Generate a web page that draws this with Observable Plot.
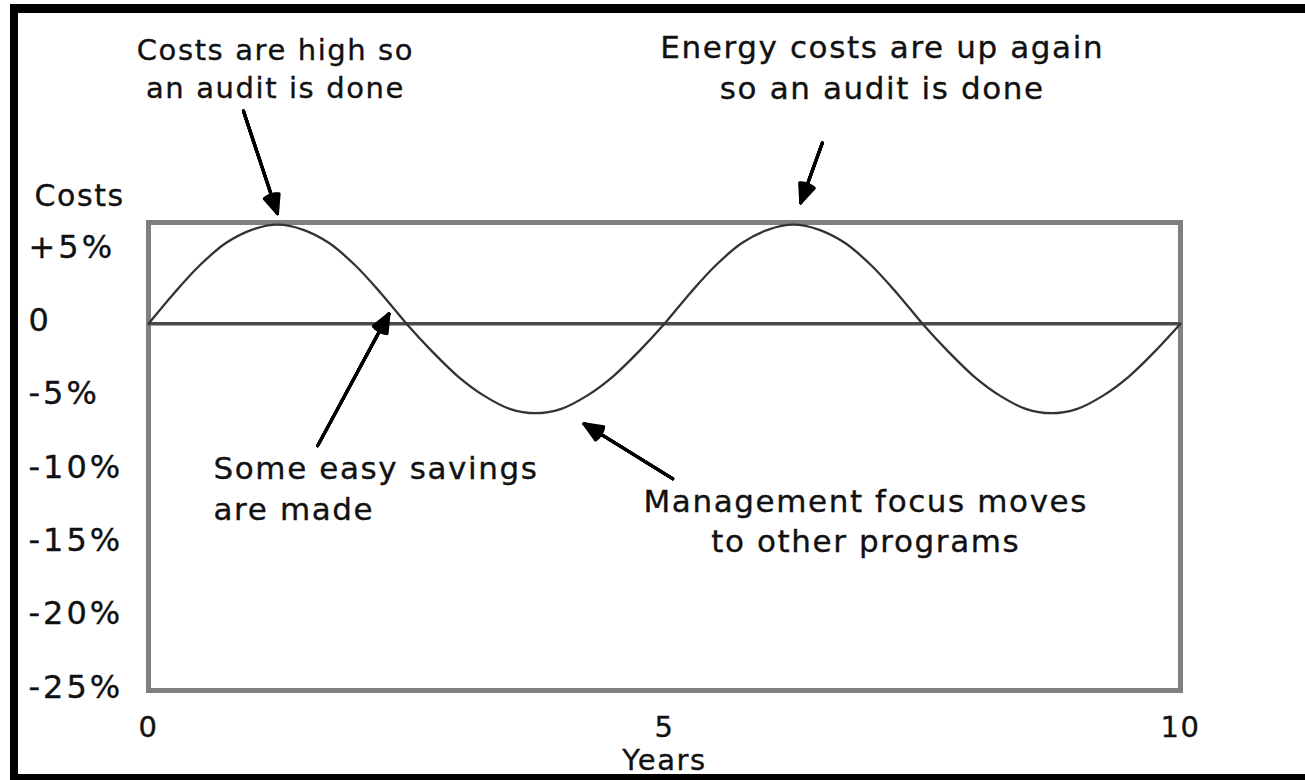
<!DOCTYPE html>
<html><head><meta charset="utf-8">
<script src="https://cdn.jsdelivr.net/npm/d3@7"></script>
<script src="https://cdn.jsdelivr.net/npm/@observablehq/plot@0.6"></script>
<style>
html,body{margin:0;padding:0;background:#fff;overflow:hidden;}
#wrap{position:relative;width:1305px;height:780px;overflow:hidden;background:#fff;}
.bd{position:absolute;background:#000;}
</style></head><body>
<div id="wrap"><div id="chart"></div>
<div class="bd" style="left:10px;top:4px;width:1295px;height:9px"></div>
<div class="bd" style="left:10px;top:4px;width:8px;height:776px"></div>
<div class="bd" style="left:10px;top:774px;width:1295px;height:6px"></div>
</div>
<script>
// Curve: cost change (%) against years
const years = [0,0.25,0.5,0.75,1,1.25,1.5,1.75,2,2.25,2.5,2.75,3,3.25,3.5,3.75,4,4.25,4.5,4.75,5,
  5.25,5.5,5.75,6,6.25,6.5,6.75,7,7.25,7.5,7.75,8,8.25,8.5,8.75,9,9.25,9.5,9.75,10];
const costs = [0,2.1,4.0,5.5,6.4,6.75,6.4,5.5,4.0,2.1,0,-1.9,-3.6,-4.9,-5.8,-6.1,-5.8,-4.9,-3.6,-1.9,0,
  2.1,4.0,5.5,6.4,6.75,6.4,5.5,4.0,2.1,0,-1.9,-3.6,-4.9,-5.8,-6.1,-5.8,-4.9,-3.6,-1.9,0];

const yTicks = [5,0,-5,-10,-15,-20,-25];
const yTickLabels = ["+5%","0","-5%","-10%","-15%","-20%","-25%"];
const xTicks = [0,5,10];
const xLabel = "Years";
const yLabel = "Costs";

// Annotations (data coordinates)
const noteText = ["Costs are high so\nan audit is done",
                  "Energy costs are up again\nso an audit is done",
                  "Some easy savings\nare made",
                  "Management focus moves\nto other programs"];
const noteX = [1.23, 7.11, 0.63, 6.95];
const noteY = [17.5, 17.6, -11.1, -13.3];
const noteAnchor = ["middle","middle","start","middle"];
const noteSize = [29, 31, 31, 31];

const arrowX1 = [0.92, 6.53, 1.64, 5.08];
const arrowY1 = [14.5, 12.33, -8.31, -10.57];
const arrowX2 = [1.25, 6.32, 2.33, 4.22];
const arrowY2 = [7.5, 8.24, 0.68, -6.82];

const curve = years.map((t,i)=>({t, v: costs[i]}));
const notes = noteText.map((text,i)=>({text, x: noteX[i], y: noteY[i], anchor: noteAnchor[i], size: noteSize[i]}));
const arrows = arrowX1.map((x1,i)=>({x1, y1: arrowY1[i], x2: arrowX2[i], y2: arrowY2[i]}));

// filled-looking heads: a fan of arrowheads with decreasing angles
const headMarks = [46, 38, 30, 22, 14, 6].map(a => Plot.arrow(arrows, {
  x1:"x1", y1:"y1", x2:"x2", y2:"y2", stroke:"#000", strokeWidth:3,
  headLength:10, headAngle:a
}));

const noteMarks = [];
for (const anchor of ["middle","start"]) {
  for (const size of [29, 31]) {
    const sub = notes.filter(d => d.anchor === anchor && d.size === size);
    if (sub.length) noteMarks.push(Plot.text(sub, {x: "x", y: "y", text: "text", textAnchor: anchor, fontSize: size, lineHeight: 1.3, fill: "#111"}));
  }
}

const chart = Plot.plot({
  width: 1305, height: 780,
  marginTop: 222, marginBottom: 90, marginLeft: 148, marginRight: 125,
  style: {fontFamily: "'DejaVu Sans', Verdana, sans-serif", fontSize: "29px", letterSpacing: "1.6px", color: "#111", background: "transparent"},
  x: {domain: [0, 10]},
  y: {domain: [-25, 6.9]},
  marks: [
    Plot.frame({stroke: "#808080", strokeWidth: 5}),
    Plot.ruleY([0], {stroke: "#4a4a4a", strokeWidth: 3.5}),
    Plot.line(curve, {x: "t", y: "v", curve: "catmull-rom", stroke: "#333", strokeWidth: 2.3}),
    Plot.axisY({ticks: yTicks, tickSize: 0, tickFormat: d => yTickLabels[yTicks.indexOf(d)], textAnchor: "start", dx: -111, dy: -3, label: null, fill: "#111", fontSize: 32}),
    Plot.axisX({ticks: xTicks, tickSize: 0, tickPadding: 26, label: null, fill: "#111"}),
    Plot.text([xLabel], {frameAnchor: "bottom", dy: 79, fill: "#111"}),
    Plot.text([yLabel], {frameAnchor: "top-left", textAnchor: "start", dx: -114, dy: -38, fill: "#111", fontSize: 30}),
    ...noteMarks,
    ...headMarks
  ]
});
// slightly heavier glyphs, like the reference's bitmap font
d3.select(chart).selectAll("text").attr("stroke", "#111").attr("stroke-width", 0.35);
d3.select(chart).selectAll('g[aria-label="y-axis tick label"] text').attr("letter-spacing", "3px");
document.getElementById("chart").appendChild(chart);
</script>
</body></html>
